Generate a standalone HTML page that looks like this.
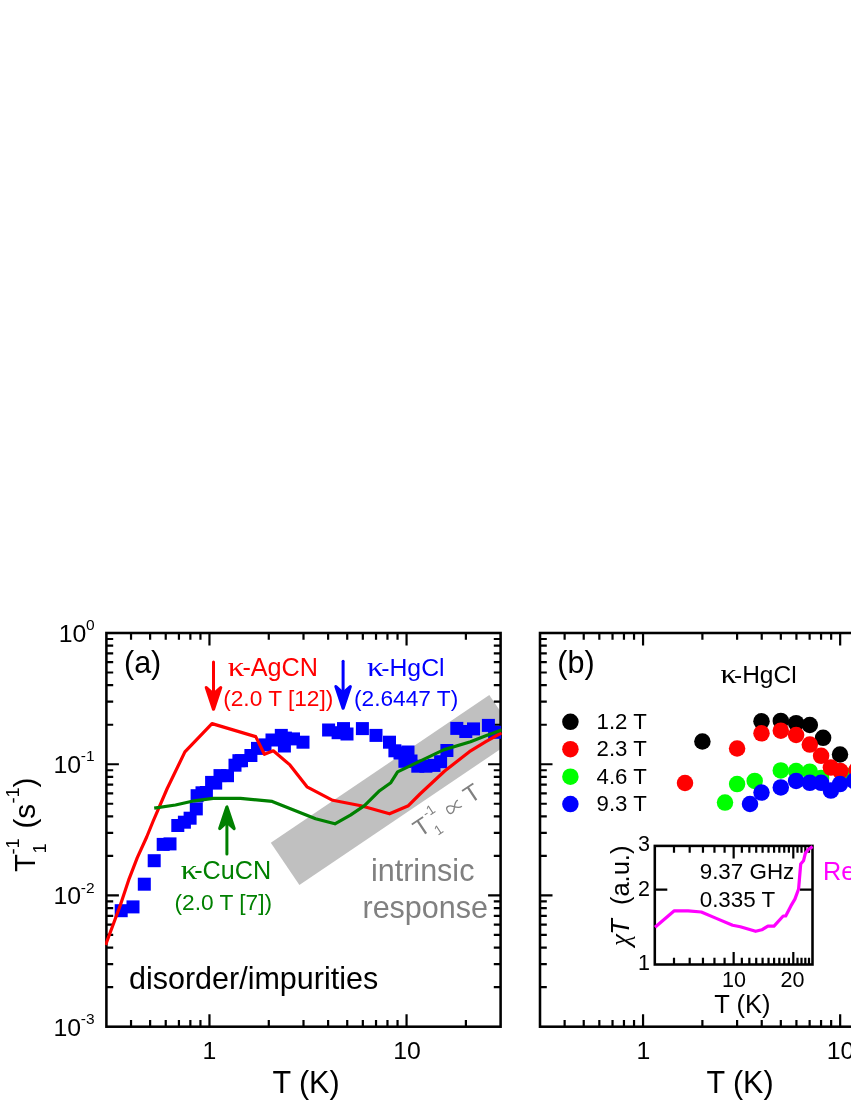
<!DOCTYPE html>
<html><head><meta charset="utf-8"><title>chart</title>
<style>html,body{margin:0;padding:0;background:#fff;overflow:hidden}svg{display:block;will-change:transform}text{font-family:"Liberation Sans",sans-serif}</style>
</head><body>
<svg width="851" height="1102" viewBox="0 0 851 1102">
<rect width="851" height="1102" fill="#fff"/>
<clipPath id="ca"><rect x="106.4" y="633.0" width="394.20000000000005" height="393.70000000000005"/></clipPath>
<clipPath id="cb"><rect x="105.125" y="631.725" width="396.75000000000006" height="396.25000000000006"/></clipPath>
<g clip-path="url(#ca)"><polygon points="270.8,842.8 489.3,695.0 517.9,737.3 299.4,885.1" fill="#c0c0c0"/></g>
<rect x="106.40" y="633.00" width="394.20" height="393.70" fill="none" stroke="#000" stroke-width="2.55"/>
<path d="M131.03 1026.70v-6.8M131.03 633.00v6.8M150.13 1026.70v-6.8M150.13 633.00v6.8M165.73 1026.70v-6.8M165.73 633.00v6.8M178.93 1026.70v-6.8M178.93 633.00v6.8M190.36 1026.70v-6.8M190.36 633.00v6.8M200.44 1026.70v-6.8M200.44 633.00v6.8M209.46 1026.70v-12.5M209.46 633.00v12.5M268.79 1026.70v-6.8M268.79 633.00v6.8M303.50 1026.70v-6.8M303.50 633.00v6.8M328.13 1026.70v-6.8M328.13 633.00v6.8M347.23 1026.70v-6.8M347.23 633.00v6.8M362.83 1026.70v-6.8M362.83 633.00v6.8M376.03 1026.70v-6.8M376.03 633.00v6.8M387.46 1026.70v-6.8M387.46 633.00v6.8M397.54 1026.70v-6.8M397.54 633.00v6.8M406.56 1026.70v-12.5M406.56 633.00v12.5M465.89 1026.70v-6.8M465.89 633.00v6.8M106.40 987.19h6.8M500.60 987.19h-6.8M106.40 964.09h6.8M500.60 964.09h-6.8M106.40 947.69h6.8M500.60 947.69h-6.8M106.40 934.97h6.8M500.60 934.97h-6.8M106.40 924.58h6.8M500.60 924.58h-6.8M106.40 915.79h6.8M500.60 915.79h-6.8M106.40 908.18h6.8M500.60 908.18h-6.8M106.40 901.47h6.8M500.60 901.47h-6.8M106.40 895.47h12.5M500.60 895.47h-12.5M106.40 855.96h6.8M500.60 855.96h-6.8M106.40 832.85h6.8M500.60 832.85h-6.8M106.40 816.46h6.8M500.60 816.46h-6.8M106.40 803.74h6.8M500.60 803.74h-6.8M106.40 793.35h6.8M500.60 793.35h-6.8M106.40 784.56h6.8M500.60 784.56h-6.8M106.40 776.95h6.8M500.60 776.95h-6.8M106.40 770.24h6.8M500.60 770.24h-6.8M106.40 764.23h12.5M500.60 764.23h-12.5M106.40 724.73h6.8M500.60 724.73h-6.8M106.40 701.62h6.8M500.60 701.62h-6.8M106.40 685.22h6.8M500.60 685.22h-6.8M106.40 672.51h6.8M500.60 672.51h-6.8M106.40 662.11h6.8M500.60 662.11h-6.8M106.40 653.33h6.8M500.60 653.33h-6.8M106.40 645.72h6.8M500.60 645.72h-6.8M106.40 639.00h6.8M500.60 639.00h-6.8" stroke="#000" stroke-width="2.2" fill="none"/>
<g clip-path="url(#cb)">
<g fill="#0000ff"><rect x="114.7" y="904.2" width="13" height="13"/><rect x="126.5" y="900.4" width="13" height="13"/><rect x="137.8" y="877.7" width="13" height="13"/><rect x="147.7" y="854.2" width="13" height="13"/><rect x="156.7" y="837.9" width="13" height="13"/><rect x="163.5" y="837.4" width="13" height="13"/><rect x="171.3" y="819.0" width="13" height="13"/><rect x="177.9" y="815.7" width="13" height="13"/><rect x="183.6" y="811.7" width="13" height="13"/><rect x="189.8" y="802.4" width="13" height="13"/><rect x="190.6" y="789.2" width="13" height="13"/><rect x="195.5" y="786.3" width="13" height="13"/><rect x="199.9" y="786.0" width="13" height="13"/><rect x="205.1" y="775.9" width="13" height="13"/><rect x="209.2" y="776.6" width="13" height="13"/><rect x="213.5" y="769.1" width="13" height="13"/><rect x="221.0" y="769.2" width="13" height="13"/><rect x="228.5" y="758.7" width="13" height="13"/><rect x="232.4" y="754.2" width="13" height="13"/><rect x="235.0" y="754.2" width="13" height="13"/><rect x="244.4" y="749.0" width="13" height="13"/><rect x="251.0" y="741.9" width="13" height="13"/><rect x="258.5" y="738.4" width="13" height="13"/><rect x="265.5" y="733.5" width="13" height="13"/><rect x="274.8" y="728.9" width="13" height="13"/><rect x="278.9" y="731.6" width="13" height="13"/><rect x="277.9" y="739.5" width="13" height="13"/><rect x="287.0" y="732.4" width="13" height="13"/><rect x="296.5" y="735.7" width="13" height="13"/><rect x="322.1" y="723.5" width="13" height="13"/><rect x="331.6" y="726.2" width="13" height="13"/><rect x="337.0" y="722.1" width="13" height="13"/><rect x="340.5" y="727.5" width="13" height="13"/><rect x="355.9" y="722.1" width="13" height="13"/><rect x="369.5" y="728.9" width="13" height="13"/><rect x="383.0" y="735.7" width="13" height="13"/><rect x="388.4" y="744.3" width="13" height="13"/><rect x="393.5" y="746.5" width="13" height="13"/><rect x="399.2" y="750.5" width="13" height="13"/><rect x="398.4" y="754.8" width="13" height="13"/><rect x="401.5" y="745.5" width="13" height="13"/><rect x="404.5" y="754.5" width="13" height="13"/><rect x="411.3" y="759.7" width="13" height="13"/><rect x="419.4" y="759.7" width="13" height="13"/><rect x="427.5" y="758.9" width="13" height="13"/><rect x="434.1" y="755.2" width="13" height="13"/><rect x="440.4" y="744.0" width="13" height="13"/><rect x="450.3" y="721.9" width="13" height="13"/><rect x="459.3" y="725.0" width="13" height="13"/><rect x="467.0" y="722.4" width="13" height="13"/><rect x="481.9" y="718.9" width="13" height="13"/><rect x="488.1" y="725.8" width="13" height="13"/></g>
<polyline points="105.6,945.0 120.3,905.2 129.1,878.8 137.3,857.6 146.7,837.0 153.0,821.5 167.2,788.5 184.9,751.9 212.0,723.6 255.7,736.6 264.4,754.3 273.3,750.8 289.9,764.9 307.0,786.8 332.7,800.3 361.0,805.7 389.5,813.8 408.4,805.7 420.0,794.0 444.7,771.0 469.4,751.7 485.8,741.7 501.5,732.9" fill="none" stroke="#ff0000" stroke-width="3.2" stroke-linejoin="round"/>
<polyline points="154.2,808.1 175.5,805.0 194.3,800.8 213.2,798.4 240.5,798.4 272.2,801.4 315.6,818.8 334.9,823.8 350.4,815.1 364.5,805.7 379.6,790.7 390.8,782.7 397.6,771.9 420.0,761.1 443.5,749.9 470.5,741.7 485.8,735.8 501.5,729.9" fill="none" stroke="#008000" stroke-width="3.2" stroke-linejoin="round"/>
</g>
<path d="M213.5 661.90V694.20" stroke="#ff0000" stroke-width="3.0" stroke-linecap="round" fill="none"/><path d="M213.5 709.20L206.30 687.60L213.5 694.20L220.70 687.60Z" fill="#ff0000" stroke="#ff0000" stroke-width="3.2" stroke-linejoin="round"/>
<path d="M343.1 661.20V693.20" stroke="#0000ff" stroke-width="3.0" stroke-linecap="round" fill="none"/><path d="M343.1 708.20L335.90 686.60L343.1 693.20L350.30 686.60Z" fill="#0000ff" stroke="#0000ff" stroke-width="3.2" stroke-linejoin="round"/>
<path d="M226.9 853.90V822.00" stroke="#008000" stroke-width="3.0" stroke-linecap="round" fill="none"/><path d="M226.9 807.00L219.70 828.60L226.9 822.00L234.10 828.60Z" fill="#008000" stroke="#008000" stroke-width="3.2" stroke-linejoin="round"/>
<text x="124" y="673" font-size="30.5" fill="#000" text-anchor="start" >(a)</text>
<text transform="translate(227.8,676.0) scale(1.32,1.12)" style="font-family:'Liberation Serif',serif" font-size="25.2" fill="#ff0000">κ</text>
<text x="242.4" y="676.0" font-size="25.2" fill="#ff0000" text-anchor="start" >-AgCN</text>
<text x="223.2" y="706.4" font-size="22.7" fill="#ff0000" text-anchor="start" >(2.0 T [12])</text>
<text transform="translate(367.0,676.0) scale(1.32,1.12)" style="font-family:'Liberation Serif',serif" font-size="25.2" fill="#0000ff">κ</text>
<text x="381.2" y="676.0" font-size="24.8" fill="#0000ff" text-anchor="start" >-HgCl</text>
<text x="354.0" y="706.4" font-size="22.7" fill="#0000ff" text-anchor="start" >(2.6447 T)</text>
<text transform="translate(180.8,879.4) scale(1.32,1.12)" style="font-family:'Liberation Serif',serif" font-size="25.2" fill="#008000">κ</text>
<text x="194.2" y="879.4" font-size="25.2" fill="#008000" text-anchor="start" >-CuCN</text>
<text x="174.5" y="909.7" font-size="22.7" fill="#008000" text-anchor="start" >(2.0 T [7])</text>
<text x="371" y="881.4" font-size="30.5" fill="#808080" text-anchor="start" >intrinsic</text>
<text x="362.5" y="918.2" font-size="30.5" fill="#808080" text-anchor="start" >response</text>
<text x="129" y="989.4" font-size="30.5" fill="#000" text-anchor="start" >disorder/impurities</text>
<g transform="translate(426,833.7) rotate(-33.7)" fill="#808080" stroke="none"><text x="0" y="0" font-size="24" text-anchor="middle">T</text><text x="8.9" y="-12.7" font-size="13.5">-1</text><text x="8.7" y="8.4" font-size="13.5">1</text><path transform="translate(37.8,-6.6) scale(0.86)" d="M8.5 -4.2C5 -4.8 2.5 -2 .5 .5C-1.5 3 -3.5 4.5 -5.5 4.5C-7.5 4.5 -8.5 2.5 -8.5 0C-8.5 -2.5 -7.5 -4.5 -5.5 -4.5C-3.5 -4.5 -1.5 -3 .5 -.5C2.5 2 5 4.8 8.5 4.2" fill="none" stroke="#808080" stroke-width="1.5"/><text x="60.6" y="0" font-size="24" text-anchor="middle">T</text></g>
<text x="86.28" y="642.0" font-size="24.8" fill="#000" text-anchor="end" >10</text><text x="85.98" y="630.1" font-size="15.5" fill="#000" text-anchor="start" >0</text>
<text x="81.12" y="773.23" font-size="24.8" fill="#000" text-anchor="end" >10</text><text x="80.82" y="761.33" font-size="15.5" fill="#000" text-anchor="start" >-1</text>
<text x="81.12" y="904.47" font-size="24.8" fill="#000" text-anchor="end" >10</text><text x="80.82" y="892.57" font-size="15.5" fill="#000" text-anchor="start" >-2</text>
<text x="81.12" y="1035.7" font-size="24.8" fill="#000" text-anchor="end" >10</text><text x="80.82" y="1023.8" font-size="15.5" fill="#000" text-anchor="start" >-3</text>
<text x="209.5" y="1059.3" font-size="24.8" fill="#000" text-anchor="middle" >1</text>
<text x="407" y="1059.3" font-size="24.8" fill="#000" text-anchor="middle" >10</text>
<text x="306" y="1092.7" font-size="30.5" fill="#000" text-anchor="middle" >T (K)</text>
<g transform="translate(34.6,872) rotate(-90)"><text x="0" y="0" font-size="29.5">T</text><text x="17.5" y="-15.2" font-size="18.4">-1</text><text x="18.5" y="10.9" font-size="18.4">1</text><text x="43.5" y="0" font-size="29.5">(s</text><text x="68.5" y="-15.2" font-size="18.4">-1</text><text x="84.5" y="0" font-size="29.5">)</text></g>
<g fill="#000"><circle cx="702.4" cy="741.5" r="8.25"/><circle cx="761.5" cy="721.3" r="8.25"/><circle cx="780.8" cy="720.9" r="8.25"/><circle cx="796.1" cy="723.2" r="8.25"/><circle cx="809.8" cy="725" r="8.25"/><circle cx="823.1" cy="737.8" r="8.25"/><circle cx="840" cy="754.5" r="8.25"/></g>
<g fill="#00ff00"><circle cx="725" cy="802.6" r="8.25"/><circle cx="737.1" cy="784.1" r="8.25"/><circle cx="754.7" cy="780.9" r="8.25"/><circle cx="780.8" cy="770.4" r="8.25"/><circle cx="796.1" cy="771.1" r="8.25"/><circle cx="809.8" cy="771.7" r="8.25"/><circle cx="821.1" cy="777.9" r="8.25"/><circle cx="843" cy="776.5" r="8.25"/><circle cx="852" cy="775.5" r="8.25"/></g>
<g fill="#ff0000"><circle cx="685" cy="783" r="8.25"/><circle cx="737.1" cy="748.5" r="8.25"/><circle cx="761.5" cy="733.3" r="8.25"/><circle cx="780.8" cy="730.7" r="8.25"/><circle cx="796.1" cy="735" r="8.25"/><circle cx="809.8" cy="744.6" r="8.25"/><circle cx="821.1" cy="755.8" r="8.25"/><circle cx="830.9" cy="767.6" r="8.25"/><circle cx="840.4" cy="771.1" r="8.25"/><circle cx="856.5" cy="770" r="8.25"/></g>
<g fill="#0000ff"><circle cx="750" cy="804" r="8.25"/><circle cx="761.5" cy="792.6" r="8.25"/><circle cx="780.8" cy="787.4" r="8.25"/><circle cx="796.1" cy="780.9" r="8.25"/><circle cx="809.8" cy="782.8" r="8.25"/><circle cx="821.1" cy="782.8" r="8.25"/><circle cx="830.9" cy="790.6" r="8.25"/><circle cx="840" cy="784.1" r="8.25"/><circle cx="854" cy="781" r="8.25"/></g>
<rect x="540.00" y="633.00" width="394.20" height="393.70" fill="none" stroke="#000" stroke-width="2.55"/>
<path d="M564.63 1026.70v-6.8M564.63 633.00v6.8M583.73 1026.70v-6.8M583.73 633.00v6.8M599.33 1026.70v-6.8M599.33 633.00v6.8M612.53 1026.70v-6.8M612.53 633.00v6.8M623.96 1026.70v-6.8M623.96 633.00v6.8M634.04 1026.70v-6.8M634.04 633.00v6.8M643.06 1026.70v-12.5M643.06 633.00v12.5M702.39 1026.70v-6.8M702.39 633.00v6.8M737.10 1026.70v-6.8M737.10 633.00v6.8M761.73 1026.70v-6.8M761.73 633.00v6.8M780.83 1026.70v-6.8M780.83 633.00v6.8M796.43 1026.70v-6.8M796.43 633.00v6.8M809.63 1026.70v-6.8M809.63 633.00v6.8M821.06 1026.70v-6.8M821.06 633.00v6.8M831.14 1026.70v-6.8M831.14 633.00v6.8M840.16 1026.70v-12.5M840.16 633.00v12.5M899.49 1026.70v-6.8M899.49 633.00v6.8M540.00 987.19h6.8M934.20 987.19h-6.8M540.00 964.09h6.8M934.20 964.09h-6.8M540.00 947.69h6.8M934.20 947.69h-6.8M540.00 934.97h6.8M934.20 934.97h-6.8M540.00 924.58h6.8M934.20 924.58h-6.8M540.00 915.79h6.8M934.20 915.79h-6.8M540.00 908.18h6.8M934.20 908.18h-6.8M540.00 901.47h6.8M934.20 901.47h-6.8M540.00 895.47h12.5M934.20 895.47h-12.5M540.00 855.96h6.8M934.20 855.96h-6.8M540.00 832.85h6.8M934.20 832.85h-6.8M540.00 816.46h6.8M934.20 816.46h-6.8M540.00 803.74h6.8M934.20 803.74h-6.8M540.00 793.35h6.8M934.20 793.35h-6.8M540.00 784.56h6.8M934.20 784.56h-6.8M540.00 776.95h6.8M934.20 776.95h-6.8M540.00 770.24h6.8M934.20 770.24h-6.8M540.00 764.23h12.5M934.20 764.23h-12.5M540.00 724.73h6.8M934.20 724.73h-6.8M540.00 701.62h6.8M934.20 701.62h-6.8M540.00 685.22h6.8M934.20 685.22h-6.8M540.00 672.51h6.8M934.20 672.51h-6.8M540.00 662.11h6.8M934.20 662.11h-6.8M540.00 653.33h6.8M934.20 653.33h-6.8M540.00 645.72h6.8M934.20 645.72h-6.8M540.00 639.00h6.8M934.20 639.00h-6.8" stroke="#000" stroke-width="2.2" fill="none"/>
<text x="557.3" y="673" font-size="30.5" fill="#000" text-anchor="start" >(b)</text>
<text transform="translate(720.5,682.8) scale(1.32,1.12)" style="font-family:'Liberation Serif',serif" font-size="24.5" fill="#000">κ</text>
<text x="734" y="682.8" font-size="24.5" fill="#000" text-anchor="start" >-HgCl</text>
<circle cx="570.4" cy="721.8" r="8.25" fill="#000"/>
<text x="596.6" y="728.8" font-size="22.2" fill="#000" text-anchor="start" >1.2 T</text>
<circle cx="570.4" cy="749.2" r="8.25" fill="#ff0000"/>
<text x="596.6" y="756.2" font-size="22.2" fill="#000" text-anchor="start" >2.3 T</text>
<circle cx="570.4" cy="776.7" r="8.25" fill="#00ff00"/>
<text x="596.6" y="783.7" font-size="22.2" fill="#000" text-anchor="start" >4.6 T</text>
<circle cx="570.4" cy="804.1" r="8.25" fill="#0000ff"/>
<text x="596.6" y="811.1" font-size="22.2" fill="#000" text-anchor="start" >9.3 T</text>
<text x="643.3" y="1059.3" font-size="24.8" fill="#000" text-anchor="middle" >1</text>
<text x="840.6" y="1059.3" font-size="24.8" fill="#000" text-anchor="middle" >10</text>
<text x="740" y="1092.7" font-size="30.5" fill="#000" text-anchor="middle" >T (K)</text>
<rect x="654.8" y="845.9" width="157.70" height="118.60" fill="#fff" stroke="#000" stroke-width="2.55"/>
<path d="M674.00 964.5v-6.8M674.00 845.9v6.8M689.69 964.5v-6.8M689.69 845.9v6.8M702.96 964.5v-6.8M702.96 845.9v6.8M714.45 964.5v-6.8M714.45 845.9v6.8M724.58 964.5v-6.8M724.58 845.9v6.8M733.65 964.5v-12.5M733.65 845.9v12.5M741.85 964.5v-6.8M741.85 845.9v6.8M749.34 964.5v-6.8M749.34 845.9v6.8M756.23 964.5v-6.8M756.23 845.9v6.8M762.60 964.5v-6.8M762.60 845.9v6.8M768.54 964.5v-6.8M768.54 845.9v6.8M774.10 964.5v-6.8M774.10 845.9v6.8M779.31 964.5v-6.8M779.31 845.9v6.8M784.23 964.5v-6.8M784.23 845.9v6.8M788.88 964.5v-6.8M788.88 845.9v6.8M793.30 964.5v-12.5M793.30 845.9v12.5M797.50 964.5v-6.8M797.50 845.9v6.8M801.50 964.5v-6.8M801.50 845.9v6.8M805.32 964.5v-6.8M805.32 845.9v6.8M808.99 964.5v-6.8M808.99 845.9v6.8M654.8 889.67h12.5M812.5 889.67h-12.5" stroke="#000" stroke-width="2.2" fill="none"/>
<polyline points="655.0,927.3 674.3,910.8 688.1,910.8 701.3,912.0 715.7,918.1 732.6,925.2 740.3,926.7 755.6,931.3 761.8,929.8 767.9,926.1 774.0,926.1 783.2,916.0 785.7,916.0 790.9,905.9 794.9,899.1 798.6,889.0 800.7,864.0 803.5,860.8 805.4,853.2 808.2,849.5 812.6,846.6" fill="none" stroke="#ff00ff" stroke-width="3.2" stroke-linejoin="round"/>
<text x="699.7" y="879.2" font-size="22.4" fill="#000" text-anchor="start" >9.37 GHz</text>
<text x="699.7" y="906.9" font-size="22.4" fill="#000" text-anchor="start" >0.335 T</text>
<text x="650" y="851.3" font-size="21.5" fill="#000" text-anchor="end" >3</text>
<text x="650" y="896.2" font-size="21.5" fill="#000" text-anchor="end" >2</text>
<text x="650" y="969.8" font-size="21.5" fill="#000" text-anchor="end" >1</text>
<text x="734" y="987.2" font-size="21.5" fill="#000" text-anchor="middle" >10</text>
<text x="792.4" y="987.2" font-size="21.5" fill="#000" text-anchor="middle" >20</text>
<text x="742.4" y="1012.6" font-size="25.5" fill="#000" text-anchor="middle" >T (K)</text>
<g transform="translate(629.25,932) rotate(-90)"><text x="-14" y="0" font-size="27" style="font-family:'Liberation Serif',serif;font-style:italic">χ</text><text x="-2.7" y="0" font-size="25.5" font-style="italic">T</text><text x="26.9" y="0" font-size="25.5">(a.u.)</text></g>
<text x="823" y="880.1" font-size="25.2" fill="#ff00ff" text-anchor="start" >Re</text>
</svg>
</body></html>
